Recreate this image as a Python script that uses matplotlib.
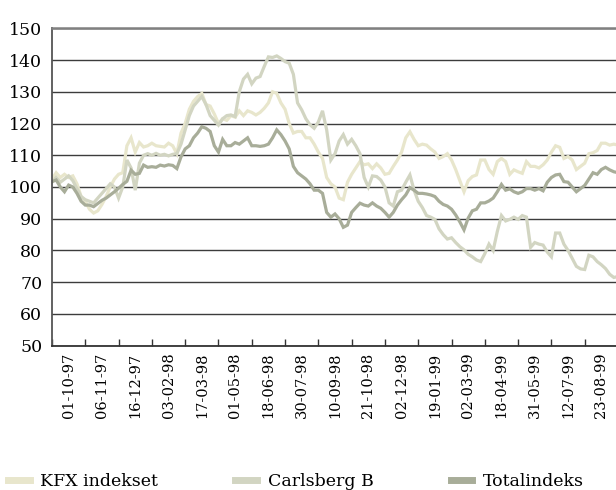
import matplotlib
matplotlib.use("Agg")
import matplotlib.pyplot as plt
from matplotlib.ticker import FixedLocator, NullFormatter, FixedFormatter

# date labels (one per 8 points)
dates = ["01-10-97", "06-11-97", "16-12-97", "03-02-98", "17-03-98", "01-05-98",
         "18-06-98", "30-07-98", "10-09-98", "21-10-98", "02-12-98", "19-01-99",
         "02-03-99", "18-04-99", "31-05-99", "12-07-99", "23-08-99"]

kfx = [102.5, 104.5, 103, 104, 103, 103.5, 101, 97,
       95.5, 93, 91.8, 92.5, 94.5, 97, 100, 102.5,
       104, 104.5, 113, 115.5, 111, 114, 112.6, 113,
       113.8, 113, 112.8, 112.6, 113.8, 113, 110.5, 117,
       120, 124.5, 127, 128.5, 129.5, 126, 125.5, 123,
       120, 121.5, 121, 122.5, 122, 124, 122.5, 124,
       123.5, 122.7, 123.5, 124.8, 126.5, 130, 129.5, 126.5,
       124.5, 120, 117, 117.5, 117.5, 115.5, 115.5, 113.5,
       111, 109, 103, 101, 100, 96.5, 96, 101.5,
       104, 106, 108, 107, 107.3, 105.8, 107.3, 106,
       104, 104.3, 106.5, 108.5, 111, 115.5, 117.4, 115,
       113, 113.5, 113.2, 112, 111, 109, 109.6, 110.5,
       108.5, 105.5, 102, 98.5, 102, 103.3, 103.8, 108.5,
       108.5, 105.5, 104, 108, 109, 108, 104, 105.4,
       104.8, 104.3, 108, 106.5, 106.5, 106, 107, 108.5,
       111, 113, 112.5, 109, 109.6, 108.5, 105.5, 106.5,
       107.5, 110.5, 110.8, 111.5, 113.8, 113.8, 113.2, 113.5, 113.2]

carlsberg = [101.5, 103, 101.5, 102.5, 103.5, 102, 99.5, 97,
             96, 95.5, 95, 96.5, 98, 99.5, 101, 100,
             96.5, 100, 108.5, 106, 99, 107.5, 110, 110.5,
             110, 110.6, 110, 110.3, 109.8, 110.3, 110.5, 113.5,
             118, 122.5, 125.5, 127, 128.5, 126, 122.5, 121,
             119.5, 121.5, 122.5, 122.7, 122.2, 130, 134, 135.5,
             132.5, 134.3, 134.8, 138, 141, 140.8, 141.3, 140.5,
             139.5, 139, 135.5, 126.5, 124.3, 121.5, 119.6, 118.5,
             120.5, 124, 118, 108.5, 110.5, 114.5, 116.5, 113.5,
             115, 113, 110.5, 103, 100, 103.5, 103.3, 102.2,
             100, 95, 94, 98.5, 99, 101.5, 103.8, 99,
             95.5, 93.5, 91, 90.5, 89.8, 86.8, 85, 83.6,
             84, 82.5, 81.2, 80.2, 78.8, 78, 77, 76.5,
             79, 82, 80, 86, 91, 89.3, 89.8, 90.5,
             89.8, 91, 90.5, 81, 82.5, 82, 81.7, 79.5,
             78, 85.5, 85.5, 82, 80, 77.5, 75, 74.2,
             74, 78.5, 78, 76.5, 75.5, 74.3, 72.5, 71.5, 71.8]

total = [101.7, 102.2, 100, 98.5, 100.6, 100, 98, 95.5,
         94.3, 94.3, 93.8, 94.8, 95.8, 96.5, 97.5, 98.5,
         99.6, 100.8, 101.8, 105.3, 104, 104.3, 106.9, 106.2,
         106.4, 106.2, 106.9, 106.6, 107, 106.8, 105.8, 109.5,
         112, 113, 115.5, 117, 119, 118.5, 117.5, 113,
         111, 115, 113, 113, 114, 113.5, 114.5, 115.5,
         113, 113, 112.8, 113, 113.5, 115.5, 118, 116.5,
         114.5, 112, 106.5, 104.5, 103.5, 102.5, 101, 99,
         99, 98, 92, 90.5, 91.5, 90, 87.3, 88,
         92, 93.5, 94.9, 94.3, 94, 95, 94, 93.3,
         92, 90.5, 92, 94.3, 96, 97.5, 99.8, 99,
         98, 98, 97.8, 97.5, 97, 95.5, 94.5, 94,
         93, 91.2, 89, 86.5, 90.2, 92.5, 93, 95,
         95, 95.6, 96.5, 98.5, 100.8, 99, 99.4, 98.5,
         98, 98.5, 99.5, 99.5, 99, 99.5, 98.8, 101.5,
         103, 103.8, 104, 101.7, 101.5, 100, 98.5, 99.5,
         100.5, 102.5, 104.5, 104, 105.5, 106.2, 105.4, 104.8, 104.5]

names = ["KFX indekset", "Carlsberg B", "Totalindeks"]
colors = ["#e8e6cc", "#d2d5c2", "#a8ad99"]
serif = ["DejaVu Serif"]

fig = plt.figure(figsize=(6.16, 4.90), dpi=100)
ax = fig.add_axes([52 / 616, 144.3 / 490, 566 / 616, 317.4 / 490])

x = list(range(len(total)))
handles = []
for vals, name, col in zip([kfx, carlsberg, total], names, colors):
    h, = ax.plot(x, vals, color=col, lw=2.3, label=name, solid_joinstyle="miter")
    handles.append(h)

ax.set_xlim(0, 136)
ax.set_ylim(50, 150)
ax.set_yticks(range(50, 151, 10))
ax.yaxis.grid(True, color="#3c3c3c", lw=1.0)
ax.set_axisbelow(True)

ax.xaxis.set_major_locator(FixedLocator([8 * k for k in range(18)]))
ax.xaxis.set_major_formatter(NullFormatter())
ax.xaxis.set_minor_locator(FixedLocator([8 * k + 4 for k in range(17)]))
ax.xaxis.set_minor_formatter(FixedFormatter(dates))
ax.tick_params(axis="x", which="major", direction="in", length=5, width=1, color="#333333")
ax.tick_params(axis="x", which="minor", length=0, pad=5)
ax.tick_params(axis="y", length=0, pad=7)
for lab in ax.get_xticklabels(minor=True):
    lab.set_rotation(90)
    lab.set_family(serif)
    lab.set_fontsize(10.5)
for lab in ax.get_yticklabels():
    lab.set_family(serif)
    lab.set_fontsize(12.5)

ax.spines["right"].set_visible(False)
ax.spines["top"].set_color("#808080")
ax.spines["top"].set_linewidth(1.8)
ax.spines["left"].set_color("#555555")
ax.spines["left"].set_linewidth(1.3)
ax.spines["bottom"].set_color("#333333")
ax.spines["bottom"].set_linewidth(1.3)

fig.legend(handles=handles, loc="lower left", bbox_to_anchor=(-0.012, -0.032), ncol=3,
           frameon=False, handlelength=1.25, handletextpad=0.6, columnspacing=4.45,
           prop={"family": serif, "size": 12.5})
for lh in fig.legends[0].get_lines():
    lh.set_linewidth(5)

fig.savefig("out.png", dpi=100)
